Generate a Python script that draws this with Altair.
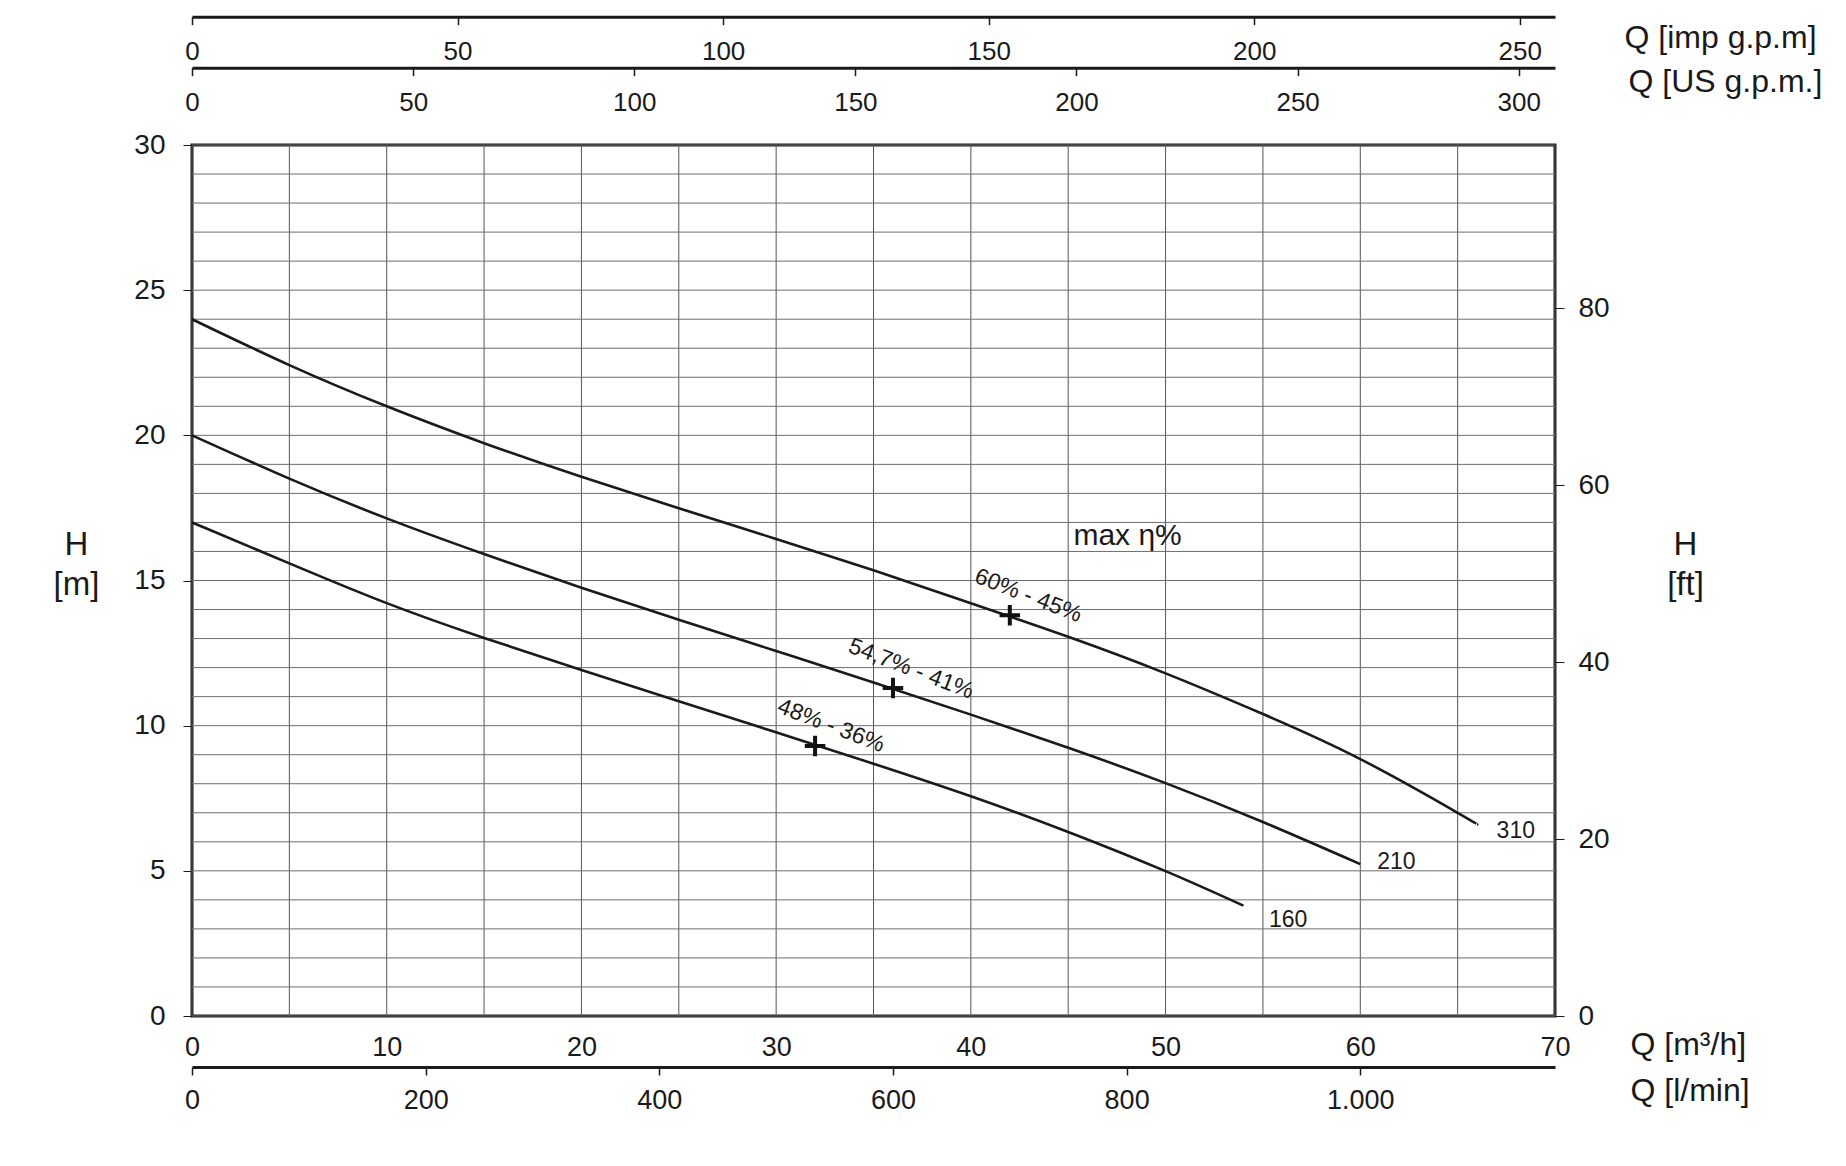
import altair as alt
import pandas as pd

# ---------------- data ----------------
Q_310 = [0, 5, 10, 15, 20, 25, 30, 35, 40, 45, 50, 55, 60, 65, 66]
H_310 = [24.0, 22.42, 21.0, 19.73, 18.57, 17.49, 16.43, 15.35, 14.22, 13.06, 11.8, 10.4, 8.85, 7.0, 6.6]

Q_210 = [0, 5, 10, 15, 20, 25, 30, 35, 40, 45, 50, 55, 60]
H_210 = [20.0, 18.51, 17.14, 15.91, 14.75, 13.65, 12.57, 11.49, 10.38, 9.24, 8.02, 6.68, 5.23]

Q_160 = [0, 5, 10, 15, 20, 25, 30, 35, 40, 45, 50, 54]
H_160 = [17.0, 15.59, 14.22, 13.02, 11.92, 10.84, 9.77, 8.69, 7.57, 6.34, 4.99, 3.8]

CURVE_NAMES = ["310", "210", "160"]
CURVE_LABEL_Q = [67.0, 60.87, 55.31]
CURVE_LABEL_H = [6.36, 5.32, 3.31]

BEP_Q = [42.0, 36.0, 32.0]
BEP_H = [13.8, 11.3, 9.3]

EFF_TEXT = ["60% - 45%", "54,7% - 41%", "48% - 36%"]
EFF_Q = [42.95, 36.93, 32.82]
EFF_H = [14.48, 11.96, 10.0]

MAXETA_TEXT = ["max η%"]
MAXETA_Q = [48.05]
MAXETA_H = [16.52]

Q_TICKS = [0, 10, 20, 30, 40, 50, 60, 70]
H_TICKS = [0, 5, 10, 15, 20, 25, 30]
GRID_Q = list(range(0, 71, 5))
GRID_H = list(range(0, 31, 1))
IMP_TICKS = [0, 50, 100, 150, 200, 250]
US_TICKS = [0, 50, 100, 150, 200, 250, 300]
LMIN_TICKS = [0, 200, 400, 600, 800, 1000]
FT_TICKS = [0, 20, 40, 60, 80]

QMAX, HMAX = 70, 30
IMP_MAX = QMAX * 1000 / 60 / 4.54609
US_MAX = QMAX * 1000 / 60 / 3.785411784
LMIN_MAX = QMAX * 1000 / 60
FT_MAX = HMAX / 0.3048

FONT = "Liberation Sans"
INK = "#1a1a1a"
W, H = 1363, 871

# ---------------- tables ----------------
curves = pd.DataFrame({
    "q": Q_310 + Q_210 + Q_160,
    "h": H_310 + H_210 + H_160,
    "curve": ["310"] * len(Q_310) + ["210"] * len(Q_210) + ["160"] * len(Q_160),
})
curve_labels = pd.DataFrame({"q": CURVE_LABEL_Q, "h": CURVE_LABEL_H, "t": CURVE_NAMES})
bep = pd.DataFrame({"q": BEP_Q, "h": BEP_H})
eff = pd.DataFrame({"q": EFF_Q, "h": EFF_H, "t": EFF_TEXT})
maxeta = pd.DataFrame({"q": MAXETA_Q, "h": MAXETA_H, "t": MAXETA_TEXT})

xs = alt.Scale(domain=[0, QMAX], nice=False, zero=False)
ys = alt.Scale(domain=[0, HMAX], nice=False, zero=False)

x_axis = alt.Axis(values=Q_TICKS, ticks=False, tickSize=0, domain=False, grid=False,
                  labelFontSize=27, labelPadding=18, labelFlush=False, labelOverlap=False,
                  title="Q [m³/h]", titleX=1438, titleY=28, titleAlign="left",
                  titleBaseline="middle", titleAngle=0, titleFontSize=32,
                  titleFontWeight="normal")
y_axis = alt.Axis(values=H_TICKS, tickSize=9, tickColor=INK, tickWidth=1, domain=False,
                  grid=False, labelFontSize=28, labelPadding=18, labelFlush=False,
                  labelOverlap=False, title=["H", "[m]"], titleX=-116, titleY=409.8,
                  titleAlign="center", titleBaseline="alphabetic", titleAngle=0,
                  titleLineHeight=40, titleFontSize=33, titleFontWeight="normal")


def X(f):
    return alt.X(f"{f}:Q", scale=xs, axis=x_axis)


def Y(f):
    return alt.Y(f"{f}:Q", scale=ys, axis=y_axis)


grid_v = alt.Chart(pd.DataFrame({"q": GRID_Q})).mark_rule(
    color="#555555", strokeWidth=1).encode(x=X("q"))
grid_h = alt.Chart(pd.DataFrame({"h": GRID_H})).mark_rule(
    color="#6e6e6e", strokeWidth=1).encode(y=Y("h"))

lines = alt.Chart(curves).mark_line(color=INK, strokeWidth=2.6, interpolate="natural").encode(
    x=X("q"), y=Y("h"), detail="curve:N")

crosses = alt.Chart(bep).mark_point(shape="M-1,0H1M0,-1V1", size=420, filled=False,
                                    stroke="#111111", strokeWidth=4, opacity=1).encode(
    x=X("q"), y=Y("h"))

eff_text = alt.Chart(eff).mark_text(fontSize=23, angle=21, align="center", baseline="middle",
                                    color=INK).encode(x=X("q"), y=Y("h"), text="t:N")

curve_text = alt.Chart(curve_labels).mark_text(fontSize=23, align="left", baseline="middle",
                                               color=INK).encode(x=X("q"), y=Y("h"), text="t:N")

maxeta_text = alt.Chart(maxeta).mark_text(fontSize=30, align="center", baseline="middle",
                                          color=INK).encode(x=X("q"), y=Y("h"), text="t:N")

main = alt.layer(grid_v, grid_h, lines, crosses, eff_text, curve_text, maxeta_text)


def aux_x(ticks, vmax, offset, title, title_x, title_y, label_size, label_pad):
    return alt.Chart(pd.DataFrame({"v": ticks})).mark_point(opacity=0).encode(
        x=alt.X("v:Q", scale=alt.Scale(domain=[0, vmax], nice=False, zero=False),
                axis=alt.Axis(orient="bottom", offset=offset, values=ticks, tickSize=8,
                              tickWidth=1.5, tickColor=INK, domainWidth=3, domainColor=INK,
                              grid=False, labelFontSize=label_size, labelPadding=label_pad,
                              labelFlush=False, labelOverlap=False,
                              labelExpr="replace(datum.label, ',', '.')", title=title,
                              titleX=title_x, titleY=title_y, titleAlign="left",
                              titleBaseline="middle", titleAngle=0, titleFontSize=32,
                              titleFontWeight="normal")))


imp = aux_x(IMP_TICKS, IMP_MAX, -999.3, "Q [imp g.p.m]", 1432, 21, 26, 14)
us = aux_x(US_TICKS, US_MAX, -948.3, "Q [US g.p.m.]", 1436, 14, 26, 14)
lmin = aux_x(LMIN_TICKS, LMIN_MAX, 51, "Q [l/min]", 1438, 23, 27, 12)

ft = alt.Chart(pd.DataFrame({"v": FT_TICKS})).mark_point(opacity=0).encode(
    y=alt.Y("v:Q", scale=alt.Scale(domain=[0, FT_MAX], nice=False, zero=False),
            axis=alt.Axis(orient="right", values=FT_TICKS, tickSize=9, tickWidth=1,
                          tickColor=INK, domain=False, grid=False, labelFontSize=28,
                          labelPadding=14, labelFlush=False, labelOverlap=False,
                          title=["H", "[ft]"], titleX=130, titleY=409.8, titleAlign="center",
                          titleBaseline="alphabetic", titleAngle=0, titleLineHeight=40,
                          titleFontSize=33, titleFontWeight="normal")))

chart = alt.layer(main, imp, us, lmin, ft).resolve_scale(
    x="independent", y="independent"
).resolve_axis(
    x="independent", y="independent"
).properties(
    width=W, height=H,
    padding={"left": 184, "top": 137, "right": 282, "bottom": 130},
    autosize=alt.AutoSizeParams(type="none"),
).configure_view(
    stroke=INK, strokeWidth=3
).configure_axis(
    labelFont=FONT, titleFont=FONT, labelColor=INK, titleColor=INK
).configure_text(
    font=FONT
)

chart.save("out.html", embed_options={"renderer": "svg", "actions": False})
